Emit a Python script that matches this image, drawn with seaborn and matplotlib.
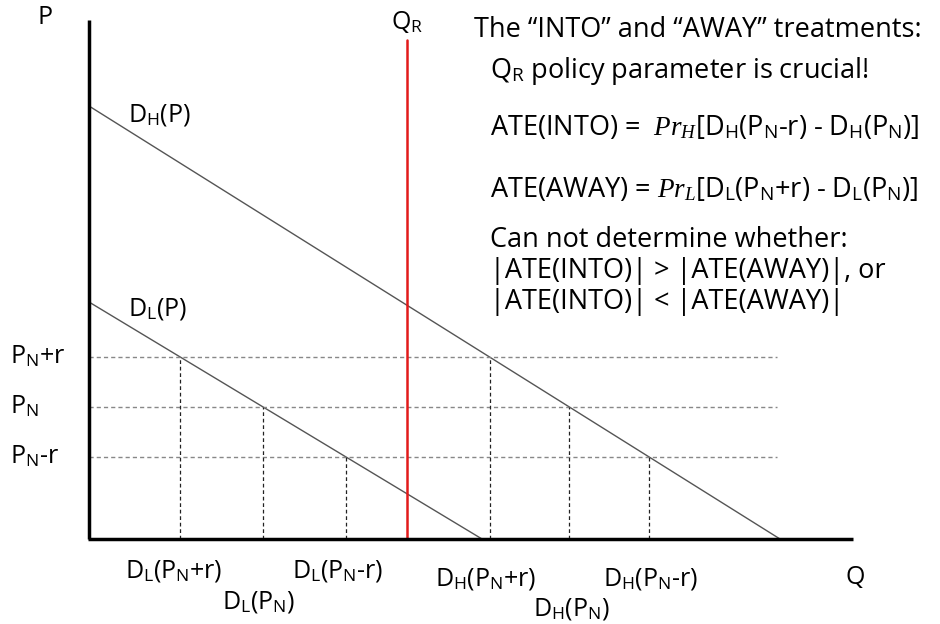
import matplotlib
matplotlib.use("Agg")
import matplotlib.pyplot as plt
import seaborn as sns
import pandas as pd
import numpy as np

sns.set_style("white")
plt.rcParams['font.family'] = ['Open Sans', 'DejaVu Sans']
plt.rcParams['mathtext.fontset'] = 'custom'
plt.rcParams['mathtext.rm'] = 'Open Sans'
plt.rcParams['mathtext.it'] = 'Liberation Serif:italic'
plt.rcParams['text.color'] = 'black'

# ---- data (diagram units: Q to the right, P upward) ----
demand_names = ["D_H", "D_L"]
p_intercepts = [433, 237]      # price where demand reaches zero quantity
q_intercepts = [691, 393]      # quantity at zero price
price_levels = [182, 132, 82]  # P_N+r, P_N, P_N-r
price_labels = ["P$_\\mathrm{N}$+r", "P$_\\mathrm{N}$", "P$_\\mathrm{N}$-r"]
q_r = 318                      # policy parameter Q_R
q_r_top = 499
guide_end = 688
q_axis_end = 764
p_axis_top = 519

fig = plt.figure(figsize=(9.4, 6.24), dpi=100)
ax = fig.add_axes([0, 0, 1, 1])
ax.set_xlim(-89, 851)
ax.set_ylim(-85, 539)
ax.axis("off")

# demand curves
rows = []
for name, pi, qi in zip(demand_names, p_intercepts, q_intercepts):
    rows.append({"curve": name, "Q": 0, "P": pi})
    rows.append({"curve": name, "Q": qi, "P": 0})
df = pd.DataFrame(rows)
sns.lineplot(data=df, x="Q", y="P", units="curve", estimator=None,
             color="#555555", lw=1.0, ax=ax, legend=False)

# horizontal price guides
for p in price_levels:
    ax.plot([0, guide_end], [p, p], ls=(0, (3, 2.2)), color="#888888", lw=1.0)

# vertical quantity guides at the intersections
for pi, qi in zip(p_intercepts, q_intercepts):
    for p in price_levels:
        q = qi * (1 - p / pi)
        ax.plot([q, q], [0, p], ls=(0, (3, 2.2)), color="#222222", lw=0.9)

# policy line
ax.plot([q_r, q_r], [0, q_r_top], color="#e21a1a", lw=1.8)

# axes
ax.plot([0, 0], [0, p_axis_top], color="black", lw=2.5, solid_capstyle="butt")
ax.plot([-1, q_axis_end], [0, 0], color="black", lw=2.5, solid_capstyle="butt")

fs = 18
fn = 19.5
ax.text(-44, 521, "P", fontsize=fs, ha="center", va="center")
ax.text(766, -38, "Q", fontsize=fs, ha="center", va="center")
ax.text(q_r, 517, "Q$_\\mathrm{R}$", fontsize=fs, ha="center", va="center")
ax.text(39, 424, "D$_\\mathrm{H}$(P)", fontsize=fs, ha="left", va="center")
ax.text(39, 230, "D$_\\mathrm{L}$(P)", fontsize=fs, ha="left", va="center")
for p, lab in zip(price_levels, price_labels):
    ax.text(-79, p, lab, fontsize=fs, ha="left", va="center")

bottom = [
    ("D$_\\mathrm{L}$(P$_\\mathrm{N}$+r)", 36, -32),
    ("D$_\\mathrm{L}$(P$_\\mathrm{N}$)", 133, -63),
    ("D$_\\mathrm{L}$(P$_\\mathrm{N}$-r)", 203, -32),
    ("D$_\\mathrm{H}$(P$_\\mathrm{N}$+r)", 346, -40),
    ("D$_\\mathrm{H}$(P$_\\mathrm{N}$)", 444, -70),
    ("D$_\\mathrm{H}$(P$_\\mathrm{N}$-r)", 514, -40),
]
for lab, x, y in bottom:
    ax.text(x, y, lab, fontsize=fs, ha="left", va="center")

notes = [
    ("The \u201cINTO\u201d and \u201cAWAY\u201d treatments:", 385, 509),
    ("Q$_\\mathrm{R}$ policy parameter is crucial!", 401, 468),
    ("ATE(INTO) =  $Pr_H$[D$_\\mathrm{H}$(P$_\\mathrm{N}$-r) - D$_\\mathrm{H}$(P$_\\mathrm{N}$)]", 401, 411),
    ("ATE(AWAY) = $Pr_L$[D$_\\mathrm{L}$(P$_\\mathrm{N}$+r) - D$_\\mathrm{L}$(P$_\\mathrm{N}$)]", 401, 349),
    ("Can not determine whether:", 401, 299),
    ("|ATE(INTO)| > |ATE(AWAY)|, or", 401, 268),
    ("|ATE(INTO)| < |ATE(AWAY)|", 401, 237),
]
for lab, x, y in notes:
    ax.text(x, y, lab, fontsize=fn, ha="left", va="center")

fig.savefig("out.png", dpi=100, facecolor="white")
